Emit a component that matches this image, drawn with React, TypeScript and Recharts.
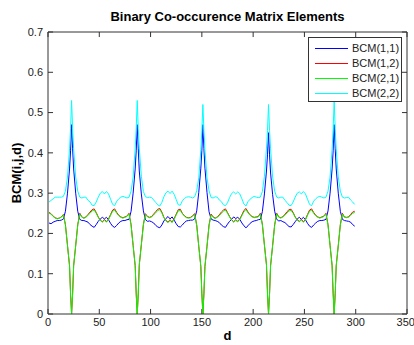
import { LineChart, Line, XAxis, YAxis, ReferenceLine } from 'recharts';

// lag d: odd values, plus the neighbours of each periodic peak
const D_VALUES = [
  1, 3, 5, 7, 9, 11, 13, 15, 17, 19, 21, 22,
  23, 24, 25, 27, 29, 31, 33, 35, 37, 39, 41, 43, 45, 47, 49, 51, 53, 55,
  57, 59, 61, 63, 65, 67, 69, 71, 73, 75, 77, 79, 81, 83, 85, 86,
  87, 88, 89, 91, 93, 95, 97, 99, 101, 103, 105, 107, 109, 111, 113, 115, 117, 119,
  121, 123, 125, 127, 129, 131, 133, 135, 137, 139, 141, 143, 145, 147, 149, 150,
  151, 152, 153, 155, 157, 159, 161, 163, 165, 167, 169, 171, 173, 175, 177, 179, 181, 183,
  185, 187, 189, 191, 193, 195, 197, 199, 201, 203, 205, 207, 209, 211, 213, 214,
  215, 216, 217, 219, 221, 223, 225, 227, 229, 231, 233, 235, 237, 239, 241, 243, 245, 247,
  249, 251, 253, 255, 257, 259, 261, 263, 265, 267, 269, 271, 273, 275, 277, 278,
  279, 280, 281, 283, 285, 287, 289, 291, 293, 295, 297, 299,
];

const BCM11 = [
  0.226, 0.224, 0.228, 0.23, 0.232, 0.232, 0.233, 0.236, 0.255, 0.3, 0.36, 0.405,
  0.47, 0.41, 0.36, 0.3, 0.255, 0.235, 0.232, 0.232, 0.23,
  0.228, 0.222, 0.218, 0.215, 0.222, 0.23, 0.236, 0.24,
  0.236, 0.24, 0.234, 0.225, 0.218, 0.215, 0.22, 0.226,
  0.23, 0.232, 0.232, 0.234, 0.235, 0.255, 0.3, 0.36, 0.405,
  0.47, 0.41, 0.355, 0.298, 0.256, 0.234, 0.23, 0.231, 0.229,
  0.226, 0.22, 0.216, 0.214, 0.221, 0.231, 0.237, 0.242,
  0.236, 0.241, 0.233, 0.224, 0.217, 0.216, 0.221, 0.227,
  0.231, 0.232, 0.233, 0.233, 0.236, 0.256, 0.302, 0.362, 0.405,
  0.47, 0.41, 0.362, 0.302, 0.254, 0.236, 0.233, 0.232, 0.23,
  0.227, 0.221, 0.217, 0.215, 0.223, 0.23, 0.235, 0.241,
  0.237, 0.24, 0.235, 0.226, 0.219, 0.214, 0.219, 0.225,
  0.229, 0.231, 0.232, 0.234, 0.235, 0.254, 0.298, 0.355, 0.395,
  0.45, 0.395, 0.35, 0.296, 0.255, 0.235, 0.231, 0.232, 0.229,
  0.227, 0.222, 0.217, 0.216, 0.222, 0.229, 0.236, 0.24,
  0.235, 0.24, 0.234, 0.225, 0.218, 0.215, 0.221, 0.226,
  0.23, 0.232, 0.232, 0.233, 0.235, 0.256, 0.3, 0.36, 0.405,
  0.47, 0.41, 0.36, 0.3, 0.255, 0.235, 0.232, 0.231, 0.23, 0.228, 0.222, 0.218,
];

const BCM12 = [
  0.252, 0.249, 0.243, 0.239, 0.237, 0.238, 0.241, 0.247, 0.222, 0.17, 0.12, 0.05,
  0, 0.05, 0.12, 0.17, 0.222, 0.25, 0.241, 0.238, 0.241,
  0.247, 0.253, 0.259, 0.261, 0.252, 0.241, 0.233, 0.229,
  0.235, 0.229, 0.236, 0.247, 0.258, 0.261, 0.252, 0.245,
  0.241, 0.239, 0.241, 0.243, 0.25, 0.222, 0.17, 0.12, 0.05,
  0, 0.05, 0.122, 0.172, 0.223, 0.249, 0.242, 0.24, 0.242,
  0.248, 0.254, 0.26, 0.262, 0.253, 0.24, 0.232, 0.228,
  0.234, 0.228, 0.237, 0.248, 0.259, 0.26, 0.25, 0.244,
  0.24, 0.239, 0.24, 0.244, 0.249, 0.221, 0.168, 0.118, 0.05,
  0, 0.05, 0.118, 0.168, 0.221, 0.248, 0.241, 0.238, 0.241,
  0.246, 0.253, 0.258, 0.261, 0.252, 0.242, 0.234, 0.229,
  0.234, 0.23, 0.236, 0.246, 0.257, 0.262, 0.253, 0.246,
  0.242, 0.24, 0.241, 0.242, 0.25, 0.223, 0.171, 0.122, 0.05,
  0, 0.05, 0.12, 0.17, 0.222, 0.25, 0.241, 0.239, 0.242,
  0.247, 0.254, 0.259, 0.26, 0.252, 0.241, 0.234, 0.23,
  0.235, 0.229, 0.235, 0.247, 0.258, 0.261, 0.252, 0.245,
  0.241, 0.239, 0.241, 0.243, 0.25, 0.222, 0.17, 0.12, 0.05,
  0, 0.05, 0.12, 0.17, 0.222, 0.25, 0.241, 0.24, 0.241, 0.247, 0.253, 0.255,
];

const BCM21 = [
  0.25, 0.248, 0.242, 0.238, 0.236, 0.238, 0.24, 0.246, 0.22, 0.17, 0.12, 0.05,
  0, 0.05, 0.12, 0.17, 0.22, 0.248, 0.24, 0.238, 0.24,
  0.245, 0.25, 0.256, 0.258, 0.25, 0.24, 0.232, 0.228,
  0.233, 0.228, 0.234, 0.245, 0.255, 0.258, 0.25, 0.244,
  0.24, 0.238, 0.24, 0.242, 0.248, 0.22, 0.17, 0.12, 0.05,
  0, 0.05, 0.122, 0.172, 0.221, 0.247, 0.241, 0.239, 0.241,
  0.246, 0.251, 0.257, 0.259, 0.251, 0.239, 0.231, 0.227,
  0.232, 0.227, 0.235, 0.246, 0.256, 0.257, 0.249, 0.243,
  0.239, 0.238, 0.239, 0.243, 0.247, 0.219, 0.168, 0.118, 0.05,
  0, 0.05, 0.118, 0.168, 0.219, 0.246, 0.24, 0.237, 0.24,
  0.244, 0.25, 0.255, 0.258, 0.25, 0.241, 0.233, 0.228,
  0.232, 0.229, 0.234, 0.244, 0.254, 0.259, 0.251, 0.245,
  0.241, 0.239, 0.24, 0.241, 0.248, 0.221, 0.171, 0.122, 0.05,
  0, 0.05, 0.12, 0.17, 0.22, 0.248, 0.24, 0.238, 0.241,
  0.245, 0.251, 0.256, 0.257, 0.25, 0.24, 0.233, 0.229,
  0.233, 0.228, 0.233, 0.245, 0.255, 0.258, 0.25, 0.244,
  0.24, 0.238, 0.24, 0.242, 0.248, 0.22, 0.17, 0.12, 0.05,
  0, 0.05, 0.12, 0.17, 0.22, 0.248, 0.24, 0.239, 0.24, 0.245, 0.25, 0.252,
];

const BCM22 = [
  0.278, 0.282, 0.286, 0.29, 0.29, 0.29, 0.29, 0.292, 0.305, 0.34, 0.41, 0.46,
  0.53, 0.46, 0.41, 0.34, 0.305, 0.29, 0.288, 0.29, 0.29,
  0.282, 0.278, 0.27, 0.269, 0.278, 0.29, 0.3, 0.304,
  0.298, 0.304, 0.298, 0.285, 0.272, 0.269, 0.28, 0.286,
  0.29, 0.292, 0.29, 0.288, 0.29, 0.305, 0.34, 0.41, 0.46,
  0.53, 0.46, 0.412, 0.342, 0.304, 0.291, 0.289, 0.29, 0.289,
  0.283, 0.277, 0.271, 0.268, 0.277, 0.291, 0.301, 0.305,
  0.299, 0.305, 0.297, 0.284, 0.271, 0.27, 0.281, 0.287,
  0.29, 0.291, 0.29, 0.288, 0.291, 0.306, 0.338, 0.408, 0.455,
  0.52, 0.455, 0.408, 0.338, 0.306, 0.289, 0.288, 0.291, 0.29,
  0.283, 0.279, 0.271, 0.269, 0.276, 0.289, 0.299, 0.303,
  0.298, 0.303, 0.298, 0.286, 0.273, 0.268, 0.279, 0.285,
  0.289, 0.292, 0.29, 0.289, 0.29, 0.304, 0.342, 0.412, 0.455,
  0.52, 0.455, 0.41, 0.34, 0.305, 0.29, 0.288, 0.29, 0.29,
  0.282, 0.277, 0.27, 0.269, 0.278, 0.29, 0.3, 0.303,
  0.298, 0.304, 0.298, 0.285, 0.272, 0.269, 0.28, 0.286,
  0.29, 0.292, 0.29, 0.288, 0.29, 0.305, 0.34, 0.41, 0.46,
  0.53, 0.46, 0.41, 0.34, 0.305, 0.29, 0.288, 0.289, 0.29, 0.283, 0.278, 0.272,
];

const X_TICKS = [0, 50, 100, 150, 200, 250, 300, 350];
const Y_TICKS = [0, 0.1, 0.2, 0.3, 0.4, 0.5, 0.6, 0.7];

const SERIES = [
  { key: 'bcm11', name: 'BCM(1,1)', color: '#0000ff', values: BCM11 },
  { key: 'bcm12', name: 'BCM(1,2)', color: '#ff0000', values: BCM12 },
  { key: 'bcm21', name: 'BCM(2,1)', color: '#00ff00', values: BCM21 },
  { key: 'bcm22', name: 'BCM(2,2)', color: '#00ffff', values: BCM22 },
];

const data = D_VALUES.map((d, i) => {
  const row: Record<string, number> = { d };
  SERIES.forEach(s => { row[s.key] = s.values[i]; });
  return row;
});

const FONT = '"Liberation Sans", Arial, Helvetica, sans-serif';
const AXIS = '#333';
const tickStyle = { fontSize: 11, fill: '#222', fontFamily: FONT };

export default function App() {
  return (
    <div style={{ position: 'fixed', left: 0, top: 0, width: 414, height: 345, background: '#fff', fontFamily: FONT }}>
      <LineChart
        width={414}
        height={345}
        data={data}
        margin={{ top: 32, right: 7, bottom: 0, left: 0 }}
      >
        <XAxis
          dataKey="d"
          type="number"
          domain={[0, 350]}
          ticks={X_TICKS}
          allowDataOverflow
          height={31}
          tickSize={0}
          tickMargin={4}
          tick={tickStyle}
          axisLine={{ stroke: AXIS }}
        />
        <YAxis
          type="number"
          domain={[0, 0.7]}
          ticks={Y_TICKS}
          width={48}
          tickSize={0}
          tickMargin={5}
          tick={tickStyle}
          axisLine={{ stroke: AXIS }}
        />
        <ReferenceLine y={0.7} stroke={AXIS} />
        <ReferenceLine x={350} stroke={AXIS} />
        {X_TICKS.map(t => (
          <ReferenceLine key={'xb' + t} segment={[{ x: t, y: 0 }, { x: t, y: 0.0125 }]} stroke={AXIS} />
        ))}
        {X_TICKS.map(t => (
          <ReferenceLine key={'xt' + t} segment={[{ x: t, y: 0.7 }, { x: t, y: 0.6875 }]} stroke={AXIS} />
        ))}
        {Y_TICKS.map(t => (
          <ReferenceLine key={'yl' + t} segment={[{ x: 0, y: t }, { x: 4.9, y: t }]} stroke={AXIS} />
        ))}
        {Y_TICKS.map(t => (
          <ReferenceLine key={'yr' + t} segment={[{ x: 350, y: t }, { x: 345.1, y: t }]} stroke={AXIS} />
        ))}
        {SERIES.map(s => (
          <Line
            key={s.key}
            type="linear"
            dataKey={s.key}
            name={s.name}
            stroke={s.color}
            strokeWidth={1}
            dot={false}
            isAnimationActive={false}
          />
        ))}
      </LineChart>

      <div style={{ position: 'absolute', left: 48, width: 359, top: 9, textAlign: 'center', fontWeight: 'bold', fontSize: 13, color: '#000' }}>
        Binary Co-occurence Matrix Elements
      </div>
      <div style={{ position: 'absolute', left: 48, width: 359, top: 328, textAlign: 'center', fontWeight: 'bold', fontSize: 13, color: '#000' }}>
        d
      </div>
      <div style={{
        position: 'absolute', left: 16, top: 173, transform: 'translate(-50%, -50%) rotate(-90deg)',
        whiteSpace: 'nowrap', fontWeight: 'bold', fontSize: 13, color: '#000',
      }}>
        BCM(i,j,d)
      </div>

      <div style={{
        position: 'absolute', left: 308, top: 37, width: 94, height: 65, boxSizing: 'border-box',
        border: `1px solid ${AXIS}`, background: '#fff',
      }}>
        {SERIES.map((s, i) => (
          <div key={s.key} style={{ position: 'absolute', left: 6, top: 3 + i * 15, height: 14, display: 'flex', alignItems: 'center' }}>
            <div style={{ width: 33, height: 0, borderTop: `1px solid ${s.color}` }} />
            <span style={{ marginLeft: 4, fontSize: 11, color: '#222' }}>{s.name}</span>
          </div>
        ))}
      </div>
    </div>
  );
}
